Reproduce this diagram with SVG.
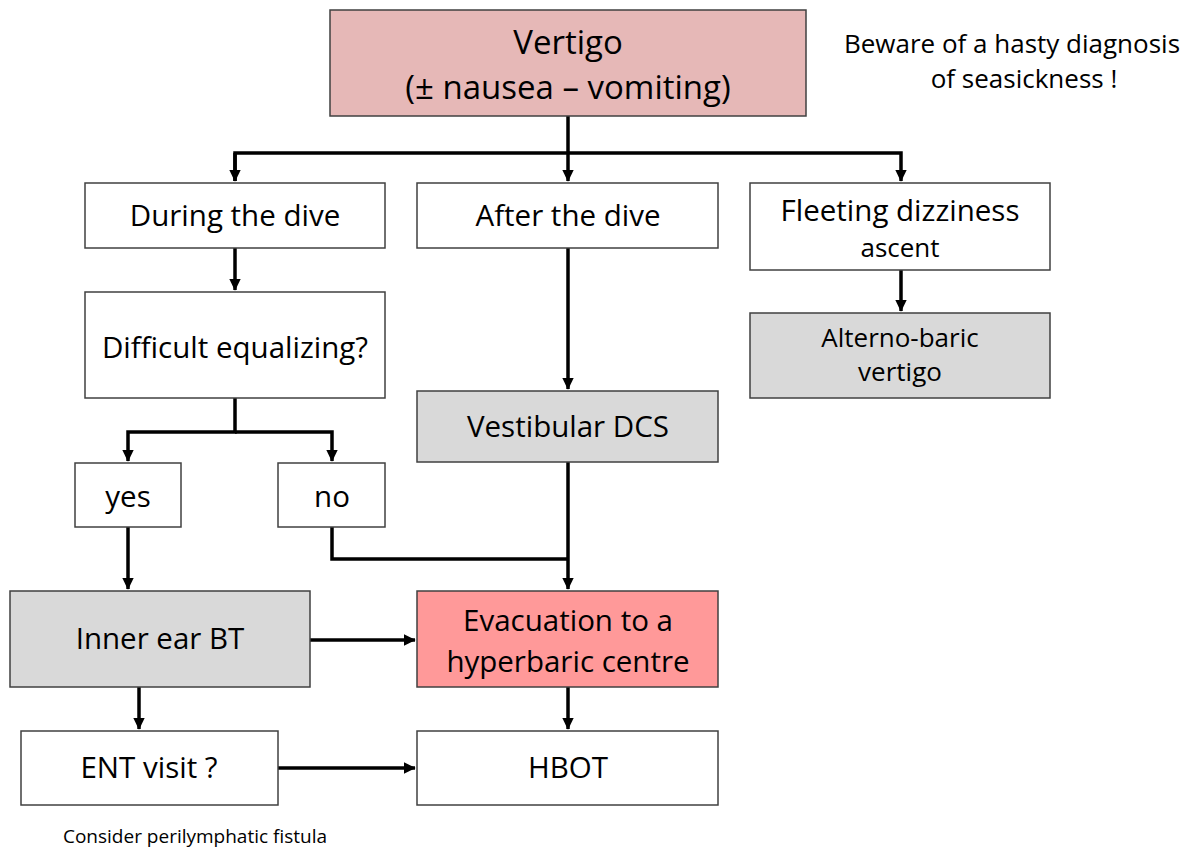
<svg xmlns="http://www.w3.org/2000/svg" width="1202" height="852" viewBox="0 0 1202 852">
<style>
.box{stroke:#404040;stroke-width:1.5}
.w{fill:#fff}.g{fill:#d9d9d9}.p{fill:#e6b8b7}.r{fill:#ff9999}
text{font-family:"Open Sans","Noto Sans",sans-serif;fill:#000;text-anchor:middle}
.t{font-size:29.5px}.s{font-size:26px}.big{font-size:33px}.n{font-size:19px}
.c path{fill:none;stroke:#000;stroke-width:3.5}
</style>
<defs>
<marker id="a" markerWidth="4" markerHeight="4" refX="3.2" refY="2" orient="auto" markerUnits="strokeWidth"><path d="M0,0.35 L3.4,2 L0,3.65 Z" fill="#000"/></marker>
</defs>
<rect width="1202" height="852" fill="#fff"/>
<g class="c">
<path d="M568,116 V181" marker-end="url(#a)"/>
<path d="M235,181 V153 H901 V181" marker-end="url(#a)"/>
<path d="M235,153 V181" marker-end="url(#a)"/>
<path d="M235,248 V290" marker-end="url(#a)"/>
<path d="M901,270 V311" marker-end="url(#a)"/>
<path d="M568,248 V389" marker-end="url(#a)"/>
<path d="M235,398 V432 H128 V461" marker-end="url(#a)"/>
<path d="M235,432 H332 V461" marker-end="url(#a)"/>
<path d="M128,527 V589" marker-end="url(#a)"/>
<path d="M332,527 V559 H568" />
<path d="M568,462 V589" marker-end="url(#a)"/>
<path d="M310,640 H415" marker-end="url(#a)"/>
<path d="M139,687 V729" marker-end="url(#a)"/>
<path d="M568,687 V729" marker-end="url(#a)"/>
<path d="M278,768 H415" marker-end="url(#a)"/>
</g>
<g id="vertigo"><rect class="box p" x="330" y="10" width="476" height="106"/><text class="big" x="568" y="54">Vertigo</text><text class="big" x="568" y="99">(± nausea – vomiting)</text></g>
<g id="during"><rect class="box w" x="85" y="183" width="300" height="65"/><text class="t" x="235" y="226">During the dive</text></g>
<g id="after"><rect class="box w" x="417" y="183" width="301" height="65"/><text class="t" x="568" y="226">After the dive</text></g>
<g id="fleeting"><rect class="box w" x="750" y="183" width="300" height="87"/><text class="t" x="900" y="221">Fleeting dizziness</text><text class="s" x="900" y="257">ascent</text></g>
<g id="difficult"><rect class="box w" x="85" y="292" width="300" height="106"/><text class="t" x="235" y="358">Difficult equalizing?</text></g>
<g id="alterno"><rect class="box g" x="750" y="313" width="300" height="85"/><text class="s" x="900" y="347">Alterno-baric</text><text class="s" x="900" y="381">vertigo</text></g>
<g id="vestibular"><rect class="box g" x="417" y="391" width="301" height="71"/><text class="t" x="568" y="437">Vestibular DCS</text></g>
<g id="yes"><rect class="box w" x="75" y="463" width="106" height="64"/><text class="t" x="128" y="507">yes</text></g>
<g id="no"><rect class="box w" x="278" y="463" width="107" height="64"/><text class="t" x="332" y="507">no</text></g>
<g id="inner"><rect class="box g" x="10" y="591" width="300" height="96"/><text class="t" x="160" y="649">Inner ear BT</text></g>
<g id="evacuation"><rect class="box r" x="417" y="591" width="301" height="96"/><text class="t" x="568" y="631">Evacuation to a</text><text class="t" x="568" y="672">hyperbaric centre</text></g>
<g id="ent"><rect class="box w" x="21" y="731" width="257" height="74"/><text class="t" x="149" y="778">ENT visit ?</text></g>
<g id="hbot"><rect class="box w" x="417" y="731" width="301" height="74"/><text class="t" x="568" y="778">HBOT</text></g>
<g id="notes"><text class="n" x="195" y="843">Consider perilymphatic fistula</text><text class="s" x="1012" y="53">Beware of a hasty diagnosis</text><text class="s" x="1024" y="88">of seasickness !</text></g>
</svg>
